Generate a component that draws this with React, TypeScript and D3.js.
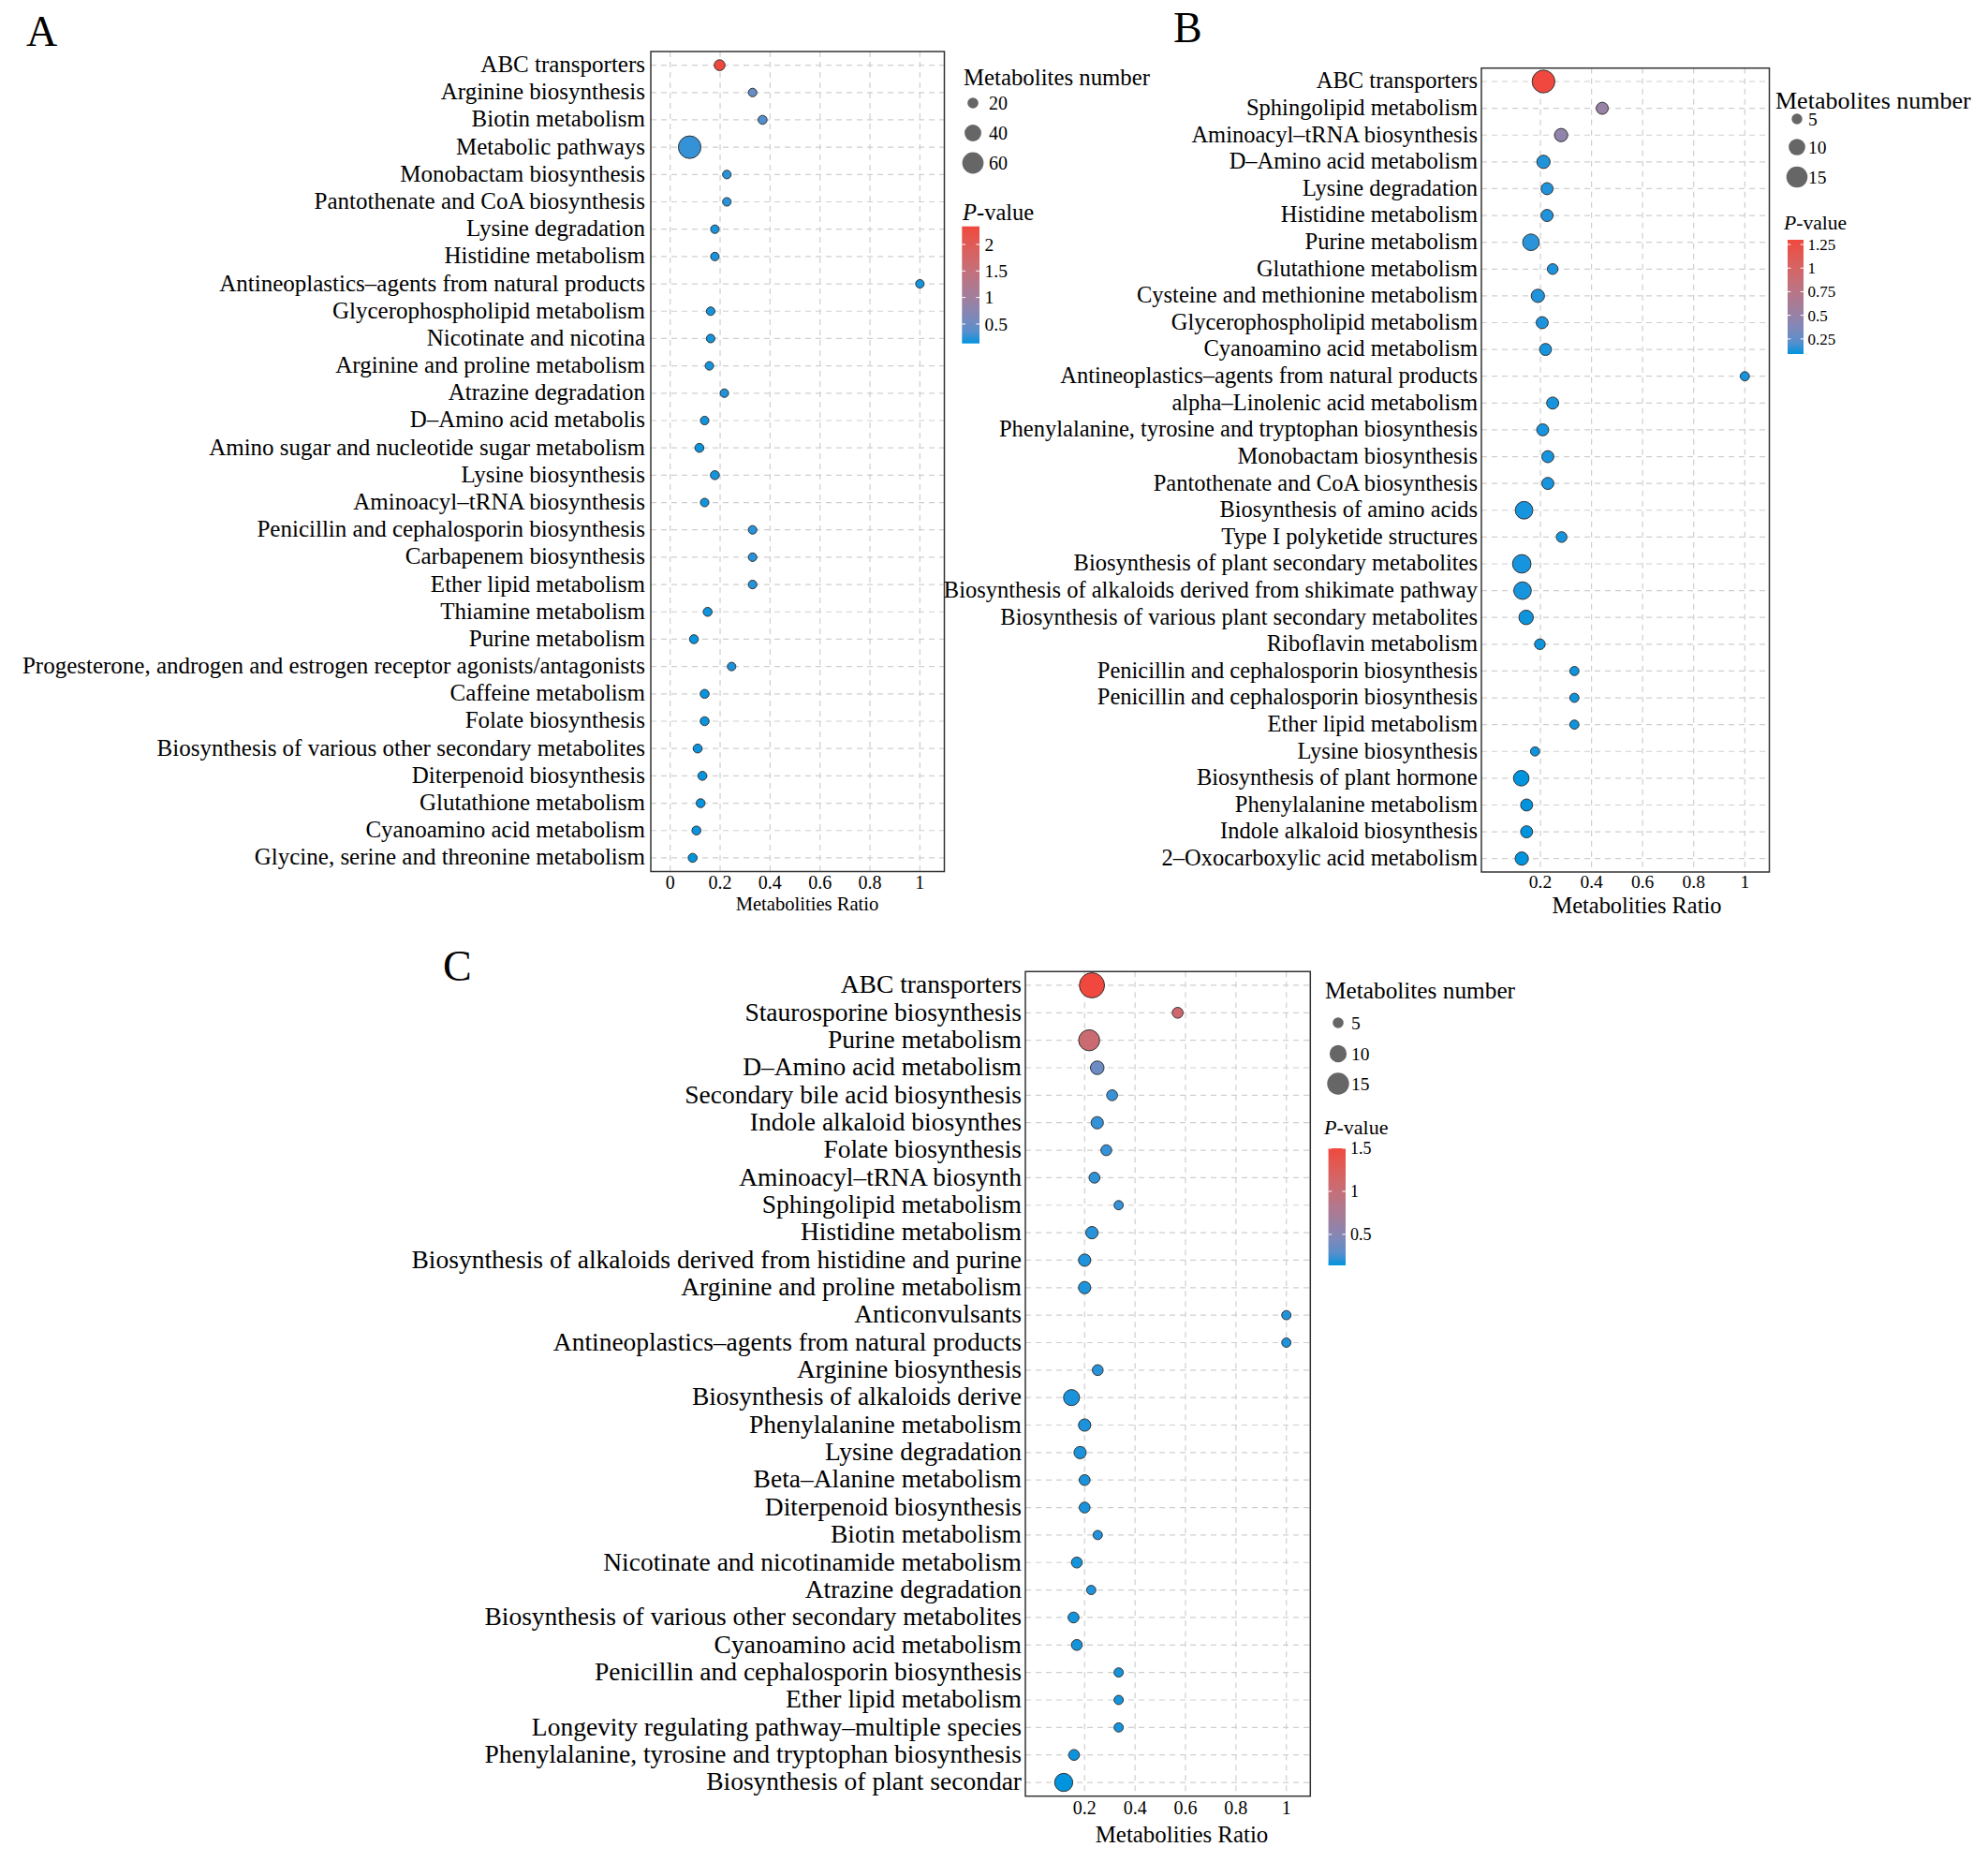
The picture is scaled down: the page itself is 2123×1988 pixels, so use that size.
import * as React from "react";
import * as d3 from "d3";

// ---------- panel A ----------
const pathwaysA = [
  "ABC transporters",
  "Arginine biosynthesis",
  "Biotin metabolism",
  "Metabolic pathways",
  "Monobactam biosynthesis",
  "Pantothenate and CoA biosynthesis",
  "Lysine degradation",
  "Histidine metabolism",
  "Antineoplastics–agents from natural products",
  "Glycerophospholipid metabolism",
  "Nicotinate and nicotina",
  "Arginine and proline metabolism",
  "Atrazine degradation",
  "D–Amino acid metabolis",
  "Amino sugar and nucleotide sugar metabolism",
  "Lysine biosynthesis",
  "Aminoacyl–tRNA biosynthesis",
  "Penicillin and cephalosporin biosynthesis",
  "Carbapenem biosynthesis",
  "Ether lipid metabolism",
  "Thiamine metabolism",
  "Purine metabolism",
  "Progesterone, androgen and estrogen receptor agonists/antagonists",
  "Caffeine metabolism",
  "Folate biosynthesis",
  "Biosynthesis of various other secondary metabolites",
  "Diterpenoid biosynthesis",
  "Glutathione metabolism",
  "Cyanoamino acid metabolism",
  "Glycine, serine and threonine metabolism",
];
const ratioA = [
  0.198, 0.33, 0.37, 0.078, 0.227, 0.227, 0.179, 0.179, 1.0, 0.162,
  0.162, 0.157, 0.217, 0.138, 0.117, 0.179, 0.138, 0.33, 0.33, 0.33,
  0.15, 0.095, 0.246, 0.138, 0.138, 0.11, 0.129, 0.122, 0.105, 0.09,
];
const countA = [
  20, 14, 15, 66, 14, 14, 14, 14, 14, 14,
  14, 14, 14, 14, 15, 15, 14, 14, 14, 14,
  15, 15, 14, 15, 15, 15, 15, 15, 15, 15,
];
const pvalueA = [
  2.34, 0.45, 0.34, 0.22, 0.19, 0.19, 0.16, 0.16, 0.15, 0.15,
  0.15, 0.15, 0.17, 0.145, 0.14, 0.15, 0.145, 0.18, 0.18, 0.18,
  0.145, 0.14, 0.16, 0.14, 0.14, 0.14, 0.14, 0.14, 0.14, 0.134,
];
const ratioTicksA = [0, 0.2, 0.4, 0.6, 0.8, 1];
const sizeBreaksA = [20, 40, 60];
const pBreaksA = [0.5, 1, 1.5, 2];

// ---------- panel B ----------
const pathwaysB = [
  "ABC transporters",
  "Sphingolipid metabolism",
  "Aminoacyl–tRNA biosynthesis",
  "D–Amino acid metabolism",
  "Lysine degradation",
  "Histidine metabolism",
  "Purine metabolism",
  "Glutathione metabolism",
  "Cysteine and methionine metabolism",
  "Glycerophospholipid metabolism",
  "Cyanoamino acid metabolism",
  "Antineoplastics–agents from natural products",
  "alpha–Linolenic acid metabolism",
  "Phenylalanine, tyrosine and tryptophan biosynthesis",
  "Monobactam biosynthesis",
  "Pantothenate and CoA biosynthesis",
  "Biosynthesis of amino acids",
  "Type I polyketide structures",
  "Biosynthesis of plant secondary metabolites",
  "Biosynthesis of alkaloids derived from shikimate pathway",
  "Biosynthesis of various plant secondary metabolites",
  "Riboflavin metabolism",
  "Penicillin and cephalosporin biosynthesis",
  "Penicillin and cephalosporin biosynthesis",
  "Ether lipid metabolism",
  "Lysine biosynthesis",
  "Biosynthesis of plant hormone",
  "Phenylalanine metabolism",
  "Indole alkaloid biosynthesis",
  "2–Oxocarboxylic acid metabolism",
];
const ratioB = [
  0.212, 0.442, 0.281, 0.212, 0.226, 0.226, 0.163, 0.248, 0.19, 0.207,
  0.22, 1.0, 0.248, 0.209, 0.229, 0.229, 0.136, 0.283, 0.127, 0.13,
  0.144, 0.198, 0.333, 0.333, 0.333, 0.179, 0.125, 0.146, 0.146, 0.127,
];
const countB = [
  17, 6, 7, 7, 6, 6, 10, 5, 7, 6,
  6, 4, 6, 6, 6, 6, 11, 5, 12, 11,
  8, 5, 4, 4, 4, 4, 9, 6, 6, 7,
];
const pvalueB = [
  1.3, 0.5, 0.46, 0.11, 0.11, 0.11, 0.12, 0.105, 0.11, 0.105,
  0.1, 0.1, 0.1, 0.1, 0.1, 0.1, 0.1, 0.1, 0.1, 0.1,
  0.095, 0.095, 0.095, 0.095, 0.095, 0.095, 0.09, 0.09, 0.09, 0.09,
];
const ratioTicksB = [0.2, 0.4, 0.6, 0.8, 1];
const sizeBreaksB = [5, 10, 15];
const pBreaksB = [0.25, 0.5, 0.75, 1, 1.25];

// ---------- panel C ----------
const pathwaysC = [
  "ABC transporters",
  "Staurosporine biosynthesis",
  "Purine metabolism",
  "D–Amino acid metabolism",
  "Secondary bile acid biosynthesis",
  "Indole alkaloid biosynthes",
  "Folate biosynthesis",
  "Aminoacyl–tRNA biosynth",
  "Sphingolipid metabolism",
  "Histidine metabolism",
  "Biosynthesis of alkaloids derived from histidine and purine",
  "Arginine and proline metabolism",
  "Anticonvulsants",
  "Antineoplastics–agents from natural products",
  "Arginine biosynthesis",
  "Biosynthesis of alkaloids derive",
  "Phenylalanine metabolism",
  "Lysine degradation",
  "Beta–Alanine metabolism",
  "Diterpenoid biosynthesis",
  "Biotin metabolism",
  "Nicotinate and nicotinamide metabolism",
  "Atrazine degradation",
  "Biosynthesis of various other secondary metabolites",
  "Cyanoamino acid metabolism",
  "Penicillin and cephalosporin biosynthesis",
  "Ether lipid metabolism",
  "Longevity regulating pathway–multiple species",
  "Phenylalanine, tyrosine and tryptophan biosynthesis",
  "Biosynthesis of plant secondar",
];
const ratioC = [
  0.229, 0.569, 0.218, 0.25, 0.309, 0.25, 0.286, 0.239, 0.335, 0.229,
  0.2, 0.2, 1.0, 1.0, 0.252, 0.148, 0.2, 0.182, 0.2, 0.2,
  0.252, 0.169, 0.226, 0.156, 0.169, 0.335, 0.335, 0.335, 0.158, 0.117,
];
const countC = [
  19, 5, 14, 7, 5, 6, 5, 5, 4, 6,
  6, 6, 4, 4, 5, 9, 6, 6, 5, 5,
  4, 5, 4, 5, 5, 4, 4, 4, 5, 11,
];
const pvalueC = [
  1.5, 1.1, 1.05, 0.36, 0.2, 0.19, 0.19, 0.18, 0.19, 0.17,
  0.16, 0.16, 0.16, 0.16, 0.17, 0.155, 0.155, 0.155, 0.155, 0.155,
  0.16, 0.15, 0.16, 0.15, 0.15, 0.15, 0.15, 0.15, 0.145, 0.14,
];
const ratioTicksC = [0.2, 0.4, 0.6, 0.8, 1];
const sizeBreaksC = [5, 10, 15];
const pBreaksC = [0.5, 1, 1.5];

const LOW = "#0094de";
const HIGH = "#f0483e";
const FONT = "'Liberation Serif', 'Times New Roman', serif";

// layout of each panel (pixels on the 2123 x 1988 page)
const layoutA = {
  id: "A", letterX: 28, letterY: 49,
  x0: 695, x1: 1008.5, y0: 55, y1: 930.5,
  xDomain: [-0.0776, 1.098],
  labelSize: 25, labelGap: 6,
  tickSize: 20, tickY: 949,
  titleSize: 20.6, titleX: 862, titleY: 972,
  sizeDomain: [20, 60], sizeRange: [5.8, 11.4],
  lgX: 1029, lgTitleY: 91, lgTitleSize: 24.8,
  lgCircleX: 1039, lgCircleY: [110, 142, 174], lgLabelX: 1056, lgLabelSize: 20,
  pX: 1028, pY: 235, pSize: 24.5,
  barX: 1027.3, barW: 18.7, barY0: 241.7, barY1: 366.7, barLabelX: 1051.5, barLabelSize: 19.5,
};
const layoutB = {
  id: "B", letterX: 1253, letterY: 45,
  x0: 1582, x1: 1889.5, y0: 72.7, y1: 931,
  xDomain: [-0.031, 1.096],
  labelSize: 24.5, labelGap: 4,
  tickSize: 19.5, tickY: 948,
  titleSize: 24.4, titleX: 1748, titleY: 975,
  sizeDomain: [5, 15], sizeRange: [5.7, 11.3],
  lgX: 1896, lgTitleY: 116, lgTitleSize: 26,
  lgCircleX: 1919, lgCircleY: [127, 157, 189], lgLabelX: 1931, lgLabelSize: 19.5,
  pX: 1905, pY: 245, pSize: 21.6,
  barX: 1909, barW: 17, barY0: 256, barY1: 378, barLabelX: 1930.5, barLabelSize: 17,
};
const layoutC = {
  id: "C", letterX: 473, letterY: 1047,
  x0: 1095, x1: 1399.3, y0: 1037.3, y1: 1917.7,
  xDomain: [-0.035, 1.095],
  labelSize: 27.5, labelGap: 4,
  tickSize: 20, tickY: 1937,
  titleSize: 24.9, titleX: 1262, titleY: 1967,
  sizeDomain: [5, 15], sizeRange: [5.8, 11.7],
  lgX: 1415, lgTitleY: 1066, lgTitleSize: 25.3,
  lgCircleX: 1429, lgCircleY: [1092, 1125, 1157], lgLabelX: 1443, lgLabelSize: 19.5,
  pX: 1414, pY: 1211, pSize: 22,
  barX: 1418.6, barW: 18.4, barY0: 1226, barY1: 1351, barLabelX: 1442, barLabelSize: 18,
};

function Panel({ cfg, pathways, ratio, count, pvalue, ratioTicks, sizeBreaks, pBreaks }) {
  const x = d3.scaleLinear().domain(cfg.xDomain).range([cfg.x0, cfg.x1]);
  const y = d3
    .scalePoint<number>()
    .domain(d3.range(pathways.length))
    .range([cfg.y0, cfg.y1])
    .padding(0.5);
  const r = d3.scaleSqrt().domain(cfg.sizeDomain).range(cfg.sizeRange);
  const pExtent = d3.extent(pvalue) as [number, number];
  const color = d3
    .scaleLinear<string>()
    .domain(pExtent)
    .range([LOW, HIGH])
    .interpolate(d3.interpolateLab);
  const barY = d3.scaleLinear().domain(pExtent).range([cfg.barY1, cfg.barY0]);
  const gradId = "grad" + cfg.id;
  const stops = d3.range(0, 1.0001, 0.1);

  return (
    <g fontFamily={FONT}>
      <text x={cfg.letterX} y={cfg.letterY} fontSize={46}>
        {cfg.id}
      </text>

      {/* grid */}
      {pathways.map((_, i) => (
        <line
          key={"h" + i}
          x1={cfg.x0}
          x2={cfg.x1}
          y1={y(i)}
          y2={y(i)}
          stroke="#cfcfcf"
          strokeWidth={1.2}
          strokeDasharray="6 5"
        />
      ))}
      {ratioTicks.map((t) => (
        <line
          key={"v" + t}
          x1={x(t)}
          x2={x(t)}
          y1={cfg.y0}
          y2={cfg.y1}
          stroke="#cfcfcf"
          strokeWidth={1.2}
          strokeDasharray="6 5"
        />
      ))}

      {/* points */}
      {pathways.map((_, i) => (
        <circle
          key={"p" + i}
          cx={x(ratio[i])}
          cy={y(i)}
          r={r(count[i])}
          fill={color(pvalue[i])}
          stroke="#333"
          strokeWidth={1}
        />
      ))}

      <rect
        x={cfg.x0}
        y={cfg.y0}
        width={cfg.x1 - cfg.x0}
        height={cfg.y1 - cfg.y0}
        fill="none"
        stroke="#333"
        strokeWidth={1.5}
      />

      {/* y labels */}
      {pathways.map((name, i) => (
        <text
          key={"l" + i}
          x={cfg.x0 - cfg.labelGap}
          y={y(i)}
          dy="0.3em"
          textAnchor="end"
          fontSize={cfg.labelSize}
        >
          {name}
        </text>
      ))}

      {/* x axis */}
      {ratioTicks.map((t) => (
        <text key={"t" + t} x={x(t)} y={cfg.tickY} textAnchor="middle" fontSize={cfg.tickSize}>
          {String(t)}
        </text>
      ))}
      <text x={cfg.titleX} y={cfg.titleY} textAnchor="middle" fontSize={cfg.titleSize}>
        Metabolities Ratio
      </text>

      {/* size legend */}
      <text x={cfg.lgX} y={cfg.lgTitleY} fontSize={cfg.lgTitleSize}>
        Metabolites number
      </text>
      {sizeBreaks.map((b, i) => (
        <g key={"s" + b}>
          <circle cx={cfg.lgCircleX} cy={cfg.lgCircleY[i]} r={r(b)} fill="#666" />
          <text
            x={cfg.lgLabelX}
            y={cfg.lgCircleY[i]}
            dy="0.35em"
            fontSize={cfg.lgLabelSize}
          >
            {b}
          </text>
        </g>
      ))}

      {/* colour legend */}
      <text x={cfg.pX} y={cfg.pY} fontSize={cfg.pSize}>
        <tspan fontStyle="italic">P</tspan>-value
      </text>
      <defs>
        <linearGradient id={gradId} x1="0" y1="1" x2="0" y2="0">
          {stops.map((s) => (
            <stop
              key={s}
              offset={s}
              stopColor={color(pExtent[0] + s * (pExtent[1] - pExtent[0]))}
            />
          ))}
        </linearGradient>
      </defs>
      <rect
        x={cfg.barX}
        y={cfg.barY0}
        width={cfg.barW}
        height={cfg.barY1 - cfg.barY0}
        fill={`url(#${gradId})`}
      />
      {pBreaks.map((b) => (
        <g key={"c" + b}>
          <line
            x1={cfg.barX}
            x2={cfg.barX + cfg.barW * 0.2}
            y1={barY(b)}
            y2={barY(b)}
            stroke="#fff"
            strokeWidth={1}
          />
          <line
            x1={cfg.barX + cfg.barW * 0.8}
            x2={cfg.barX + cfg.barW}
            y1={barY(b)}
            y2={barY(b)}
            stroke="#fff"
            strokeWidth={1}
          />
          <text x={cfg.barLabelX} y={barY(b)} dy="0.35em" fontSize={cfg.barLabelSize}>
            {String(b)}
          </text>
        </g>
      ))}
    </g>
  );
}

export default function App() {
  React.useEffect(() => {
    document.body.style.margin = "0";
    document.body.style.overflow = "hidden";
  }, []);

  return (
    <svg
      width={2123}
      height={1988}
      style={{ position: "absolute", left: 0, top: 0, background: "#fff" }}
    >
      <rect width={2123} height={1988} fill="#fff" />
      <Panel
        cfg={layoutA}
        pathways={pathwaysA}
        ratio={ratioA}
        count={countA}
        pvalue={pvalueA}
        ratioTicks={ratioTicksA}
        sizeBreaks={sizeBreaksA}
        pBreaks={pBreaksA}
      />
      <Panel
        cfg={layoutB}
        pathways={pathwaysB}
        ratio={ratioB}
        count={countB}
        pvalue={pvalueB}
        ratioTicks={ratioTicksB}
        sizeBreaks={sizeBreaksB}
        pBreaks={pBreaksB}
      />
      <Panel
        cfg={layoutC}
        pathways={pathwaysC}
        ratio={ratioC}
        count={countC}
        pvalue={pvalueC}
        ratioTicks={ratioTicksC}
        sizeBreaks={sizeBreaksC}
        pBreaks={pBreaksC}
      />
    </svg>
  );
}
